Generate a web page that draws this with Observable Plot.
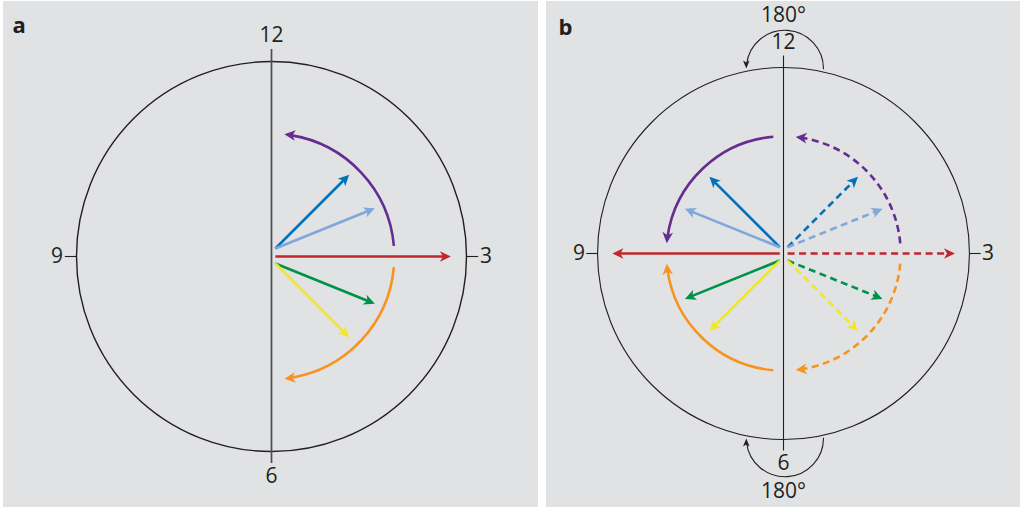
<!DOCTYPE html>
<html>
<head>
<meta charset="utf-8">
<script src="https://cdn.jsdelivr.net/npm/d3@7"></script>
<script src="https://cdn.jsdelivr.net/npm/@observablehq/plot@0.6"></script>
<style>
  html, body { margin: 0; padding: 0; background: #ffffff; }
  body { position: relative; width: 1022px; height: 508px; overflow: hidden; font-family: "Open Sans", sans-serif; }
  .panel { position: absolute; top: 1px; height: 506px; background: #e1e2e4; }
  .panel svg { display: block; }
  #panel-a { left: 3px; width: 535px; }
  #panel-b { left: 546px; width: 474px; }
</style>
</head>
<body>
<div id="panel-a" class="panel"></div>
<div id="panel-b" class="panel"></div>
<script>
// ---------------- data ----------------
const panelLetters = ["a", "b"];
const clockLabels = ["12", "3", "6", "9"];
const clockLabelAngles = [90, 0, -90, 180];
const tickAngles = [0, 180];

// straight rays: direction in degrees (0 = towards 3 o'clock, counter-clockwise), length in clock radii
const rayColorKeys = ["blue", "lightBlue", "red", "green", "yellow"];
const rayLengths = [0.535, 0.55, 0.9, 0.55, 0.535];
const rayAnglesA = [45, 22, 0, -22, -45];
const rayAnglesBSolid = [135, 158, 180, 202, 225];
const rayAnglesBDashed = [45, 22, 0, -22, -45];

// curved rotation arrows: start and end angle in degrees
const arcColorKeys = ["purple", "orange"];
const arcStartA = [5, -5];
const arcEndA = [84, -84];
const arcStartBSolid = [95, -95];
const arcEndBSolid = [175, -175];
const arcStartBDashed = [5, -5];
const arcEndBDashed = [84, -84];

// half-turn annotations of panel b
const halfTurnLabels = ["180°", "180°"];
const halfTurnSides = [1, -1]; // at 12 o'clock, at 6 o'clock

const palette = {
  purple: "#662d91", blue: "#0072bc", lightBlue: "#7fa7da", red: "#c1272d",
  green: "#00924a", yellow: "#f3e52c", orange: "#f7941d"
};
const ink = "#231f20";

// ---------------- layout ----------------
const layout = {
  a: {el: "#panel-a", w: 535, h: 506, cx: 268, cy: 255, R: 195, rim: 1.4, axis: 1.7, axisColor: "#4d4d4f",
      letterDx: 9, letterDy: 24.7},
  b: {el: "#panel-b", w: 474, h: 506, cx: 237, cy: 252, R: 186, rim: 1.1, axis: 1.1, axisColor: ink,
      letterDx: 12, letterDy: 26.7}
};
const FONT = "'Open Sans', 'Noto Sans', sans-serif";
const rad = Math.PI / 180;

// filled barbed arrowheads (tip at origin, pointing up before rotation)
const headBig = {draw(ctx) { ctx.moveTo(0, 0); ctx.lineTo(5.3, 11); ctx.lineTo(0, 8); ctx.lineTo(-5.3, 11); ctx.closePath(); }};
const headSmall = {draw(ctx) { ctx.moveTo(0, 0); ctx.lineTo(3.3, 8); ctx.lineTo(0, 6); ctx.lineTo(-3.3, 8); ctx.closePath(); }};

function makeRays(angles, ox, oyUp, oyDown, dashed) {
  return rayColorKeys.map((key, i) => {
    const a = angles[i] * rad;
    const s = Math.sin(a);
    const oy = s > 1e-6 ? oyUp : s < -1e-6 ? oyDown : 0;
    return {color: palette[key], x1: ox, y1: oy,
            x2: ox + rayLengths[i] * Math.cos(a), y2: oy + rayLengths[i] * Math.sin(a),
            dir: angles[i], dashed};
  });
}
function makeArcs(starts, ends, r, dashed) {
  return arcColorKeys.map((key, i) => {
    const a0 = starts[i], a1 = ends[i];
    return {color: palette[key], x1: r * Math.cos(a0 * rad), y1: r * Math.sin(a0 * rad),
            x2: r * Math.cos(a1 * rad), y2: r * Math.sin(a1 * rad),
            bend: -(a1 - a0) / 2, dir: a1 + Math.sign(a1 - a0) * 90, dashed};
  });
}

function colorMarks(items) {
  const solid = items.filter(d => !d.dashed), dashed = items.filter(d => d.dashed);
  const marks = [];
  for (const [set, dash] of [[solid, null], [dashed, "7,4.5"]]) {
    if (!set.length) continue;
    const bends = Array.from(new Set(set.map(d => d.bend || 0)));
    for (const b of bends) {
      const sub = set.filter(d => (d.bend || 0) === b);
      marks.push(Plot.arrow(sub, {
        x1: "x1", y1: "y1", x2: "x2", y2: "y2", bend: b, headLength: 0, insetEnd: 6,
        stroke: "color", strokeWidth: 2.6, strokeLinecap: "butt",
        strokeDasharray: dash || undefined
      }));
    }
  }
  marks.push(Plot.dot(items, {x: "x2", y: "y2", symbol: headBig, r: 5, fill: "color", stroke: null,
    rotate: d => 90 - d.dir}));
  return marks;
}

function clockMarks(cfg) {
  const rim = [{x1: 0, y1: 1, x2: 0, y2: -1}, {x1: 0, y1: -1, x2: 0, y2: 1}];
  const ticks = tickAngles.map(a => ({x1: Math.cos(a * rad), y1: Math.sin(a * rad),
                                      x2: 1.06 * Math.cos(a * rad), y2: 1.06 * Math.sin(a * rad)}));
  const labels = clockLabels.map((t, i) => {
    const a = clockLabelAngles[i];
    const rr = (a === 90) ? 1.135 : (a === -90 ? 1.128 : 1.1);
    return {text: t, x: rr * Math.cos(a * rad), y: rr * Math.sin(a * rad)};
  });
  return [
    Plot.arrow(rim, {x1: "x1", y1: "y1", x2: "x2", y2: "y2", bend: 90, headLength: 0,
      stroke: ink, strokeWidth: cfg.rim, strokeLinecap: "butt"}),
    Plot.ruleX([0], {y1: -1.062, y2: 1.062, stroke: cfg.axisColor, strokeWidth: cfg.axis}),
    Plot.link(ticks, {x1: "x1", y1: "y1", x2: "x2", y2: "y2", stroke: ink, strokeWidth: 1.1}),
    Plot.text(labels, {x: "x", y: "y", text: "text", fontSize: 21, fill: ink})
  ];
}

function letterMark(letter, cfg) {
  return Plot.text([letter], {frameAnchor: "top-left", textAnchor: "start", lineAnchor: "middle",
    dx: cfg.letterDx, dy: cfg.letterDy, fontSize: 22, fontWeight: "bold", fill: ink});
}

function render(key, marks) {
  const cfg = layout[key];
  const chart = Plot.plot({
    width: cfg.w, height: cfg.h,
    marginTop: 0, marginRight: 0, marginBottom: 0, marginLeft: 0,
    x: {axis: null, domain: [-cfg.cx / cfg.R, (cfg.w - cfg.cx) / cfg.R], range: [0, cfg.w]},
    y: {axis: null, domain: [-(cfg.h - cfg.cy) / cfg.R, cfg.cy / cfg.R], range: [cfg.h, 0]},
    style: {background: "transparent", fontFamily: FONT, overflow: "visible"},
    marks: [...clockMarks(cfg), ...marks, letterMark(key, cfg)]
  });
  document.querySelector(cfg.el).appendChild(chart);
}

// panel a
render("a", colorMarks([
  ...makeRays(rayAnglesA, 0.02, 0.041, -0.036, false),
  ...makeArcs(arcStartA, arcEndA, 0.63, false)
]));

// panel b
const halfTurns = halfTurnSides.map(s => ({x1: 0.215, y1: 0.99 * s, x2: -0.2, y2: 0.995 * s, bend: -90 * s, dir: -90 * s}));
const halfTurnText = halfTurnLabels.map((t, i) => ({text: t, x: 0, y: 1.28 * halfTurnSides[i]}));
render("b", [
  ...colorMarks([
    ...makeRays(rayAnglesBSolid, -0.02, 0.034, -0.038, false),
    ...makeRays(rayAnglesBDashed, 0.022, 0.034, -0.038, true),
    ...makeArcs(arcStartBSolid, arcEndBSolid, 0.63, false),
    ...makeArcs(arcStartBDashed, arcEndBDashed, 0.63, true)
  ]),
  ...halfTurnSides.map((s, i) => Plot.arrow([halfTurns[i]], {x1: "x1", y1: "y1", x2: "x2", y2: "y2",
    bend: -90 * s, headLength: 0, insetEnd: 4, stroke: ink, strokeWidth: 1.1, strokeLinecap: "butt"})),
  Plot.dot(halfTurns, {x: "x2", y: "y2", symbol: headSmall, r: 4, fill: ink, stroke: null, rotate: d => 90 - d.dir}),
  Plot.text(halfTurnText, {x: "x", y: "y", text: "text", fontSize: 21, fill: ink})
]);
</script>
</body>
</html>
